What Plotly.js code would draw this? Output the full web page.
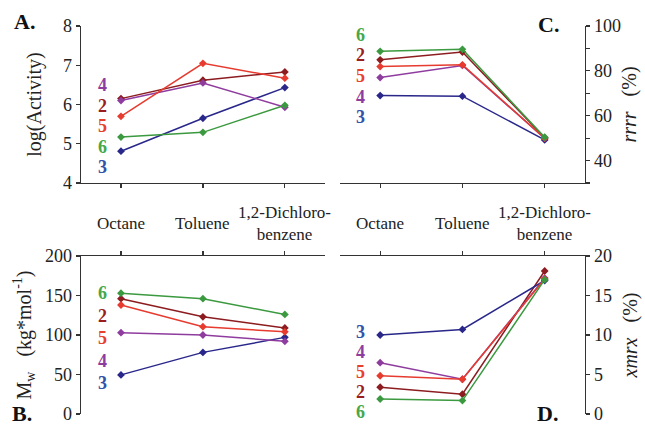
<!DOCTYPE html>
<html>
<head>
<meta charset="utf-8">
<script src="https://cdn.plot.ly/plotly-3.0.1.min.js"></script>
<style>html,body{margin:0;padding:0;background:#fff}#chart{width:645px;height:426px}</style>
</head>
<body>
<div id="chart"></div>
<script>
// ---- data ----
const categories = ['Octane', 'Toluene', '1,2-Dichlorobenzene'];
const tickLabels = ['Octane', 'Toluene', '1,2-Dichloro-<br>benzene'];
const seriesNames = ['2', '3', '4', '5', '6'];

// A: log(Activity)
const activity2 = [6.15, 6.62, 6.83];
const activity3 = [4.81, 5.65, 6.43];
const activity4 = [6.10, 6.55, 5.93];
const activity5 = [5.70, 7.05, 6.67];
const activity6 = [5.17, 5.29, 5.98];

// C: rrrr (%)
const rrrr2 = [84.9, 88.4, 50.2];
const rrrr3 = [69.0, 68.7, 49.2];
const rrrr4 = [77.0, 82.4, 49.9];
const rrrr5 = [81.9, 82.7, 50.0];
const rrrr6 = [88.7, 89.6, 50.4];

// B: Mw (kg/mol)
const mw2 = [146, 123, 109];
const mw3 = [49.5, 78, 97];
const mw4 = [103, 100, 92];
const mw5 = [138, 110.5, 104];
const mw6 = [153, 146, 126];

// D: xmrx (%)
const xmrx2 = [3.4, 2.5, 18.1];
const xmrx3 = [10.0, 10.7, 16.9];
const xmrx4 = [6.5, 4.4, 17.2];
const xmrx5 = [4.84, 4.4, 17.1];
const xmrx6 = [1.9, 1.7, 17.0];

// label order (top to bottom) in each panel
const orderA = ['4', '2', '5', '6', '3'];
const orderC = ['6', '2', '5', '4', '3'];
const orderB = ['6', '2', '5', '4', '3'];
const orderD = ['3', '4', '5', '2', '6'];

// ---- styling ----
const lineColors = {'2': '#8c1c1f', '3': '#29278a', '4': '#8f3c9f', '5': '#e63b2e', '6': '#3b993f'};
const labelColors = {'2': '#9a1d20', '3': '#3353aa', '4': '#8f3c9f', '5': '#e8402f', '6': '#46a84a'};
const FONT = "'Liberation Serif', 'Times New Roman', Times, serif";

const panels = [
  {xa: 'x', ya: 'y', data: {'2': activity2, '3': activity3, '4': activity4, '5': activity5, '6': activity6}},
  {xa: 'x2', ya: 'y2', data: {'2': rrrr2, '3': rrrr3, '4': rrrr4, '5': rrrr5, '6': rrrr6}},
  {xa: 'x3', ya: 'y3', data: {'2': mw2, '3': mw3, '4': mw4, '5': mw5, '6': mw6}},
  {xa: 'x4', ya: 'y4', data: {'2': xmrx2, '3': xmrx3, '4': xmrx4, '5': xmrx5, '6': xmrx6}}
];

const traces = [];
panels.forEach(p => {
  seriesNames.forEach(s => {
    traces.push({
      type: 'scatter', mode: 'lines+markers',
      x: categories, y: p.data[s], xaxis: p.xa, yaxis: p.ya,
      name: s, showlegend: false,
      line: {color: lineColors[s], width: 1.5},
      marker: {symbol: 'diamond', size: 6, color: lineColors[s]}
    });
  });
});

// layout geometry (pixels)
const W = 645, H = 426;
const M = {l: 81, r: 60, t: 26, b: 12};
const PW = W - M.l - M.r, PH = H - M.t - M.b;
const px = x => (x - M.l) / PW;
const py = y => (H - M.b - y) / PH;

const xLeft = [px(81), px(325)], xRight = [px(340), px(585)];
const yTop = [py(183), py(26)], yBot = [py(414), py(256)];

const tickFont = {family: FONT, size: 18, color: '#222'};
const axCommon = {
  showline: true, linecolor: '#333', linewidth: 1.3,
  ticks: 'outside', ticklen: 4, tickwidth: 1.2, tickcolor: '#333',
  showgrid: false, zeroline: false, tickfont: tickFont, fixedrange: true
};
const xCommon = Object.assign({}, axCommon, {type: 'category', range: [-0.488, 2.49], showticklabels: false});

const titleFont = {family: FONT, size: 20, color: '#222'};

const layout = {
  width: W, height: H,
  margin: M,
  paper_bgcolor: '#fff', plot_bgcolor: 'rgba(0,0,0,0)',
  font: {family: FONT, color: '#222'},
  xaxis: Object.assign({}, xCommon, {domain: xLeft, anchor: 'y', side: 'bottom'}),
  yaxis: Object.assign({}, axCommon, {domain: yTop, anchor: 'x', side: 'left', range: [4, 8], dtick: 1,
    title: {text: 'log(Activity)', font: titleFont, standoff: 16}}),
  xaxis2: Object.assign({}, xCommon, {domain: xRight, anchor: 'y2', side: 'bottom'}),
  yaxis2: Object.assign({}, axCommon, {domain: yTop, anchor: 'x2', side: 'right', range: [30, 100],
    tick0: 0, dtick: 20,
    minor: {dtick: 10, tick0: 0, ticks: 'outside', ticklen: 4, tickwidth: 1.2, tickcolor: '#333', showgrid: false},
    title: {text: '<i>rrrr</i>\u00a0\u00a0\u00a0(%)', font: titleFont, standoff: 2}}),
  xaxis3: Object.assign({}, xCommon, {domain: xLeft, anchor: 'y3', side: 'top'}),
  yaxis3: Object.assign({}, axCommon, {domain: yBot, anchor: 'x3', side: 'left', range: [0, 200], dtick: 50,
    title: {text: 'M<sub>w</sub>\u00a0\u00a0\u00a0(kg*mol<sup>-1</sup>)', font: titleFont, standoff: 8}}),
  xaxis4: Object.assign({}, xCommon, {domain: xRight, anchor: 'y4', side: 'top'}),
  yaxis4: Object.assign({}, axCommon, {domain: yBot, anchor: 'x4', side: 'right', range: [0, 20], dtick: 5,
    title: {text: '<i>xmrx</i>\u00a0\u00a0\u00a0(%)', font: titleFont, standoff: 12}}),
  annotations: []
};

// category labels between the panels
['x', 'x2'].forEach(xa => {
  categories.forEach((c, i) => {
    layout.annotations.push({
      xref: xa, yref: 'paper', x: c, y: py(223), yanchor: 'middle', xanchor: 'center',
      text: tickLabels[i], showarrow: false, font: {family: FONT, size: 17, color: '#222'}
    });
  });
});

// series number labels
function addLabels(order, xPix, yStartPix, step) {
  order.forEach((s, i) => {
    layout.annotations.push({
      xref: 'paper', yref: 'paper', x: px(xPix), y: py(yStartPix + i * step),
      xanchor: 'center', yanchor: 'middle', showarrow: false,
      text: '<b>' + s + '</b>', font: {family: FONT, size: 18, color: labelColors[s]}
    });
  });
}
addLabels(orderA, 102, 85, 20.5);
addLabels(orderC, 360, 35, 20.5);
addLabels(orderB, 102, 293, 22.5);
addLabels(orderD, 360, 332, 20);

// panel letters
[['A.', 24, 21], ['C.', 548, 24], ['B.', 22, 413], ['D.', 547, 413]].forEach(([t, x, y]) => {
  layout.annotations.push({
    xref: 'paper', yref: 'paper', x: px(x), y: py(y), xanchor: 'center', yanchor: 'middle',
    showarrow: false, text: '<b>' + t + '</b>', font: {family: FONT, size: 22, color: '#111'}
  });
});

Plotly.newPlot('chart', traces, layout, {staticPlot: true, displayModeBar: false});
</script>
</body>
</html>
